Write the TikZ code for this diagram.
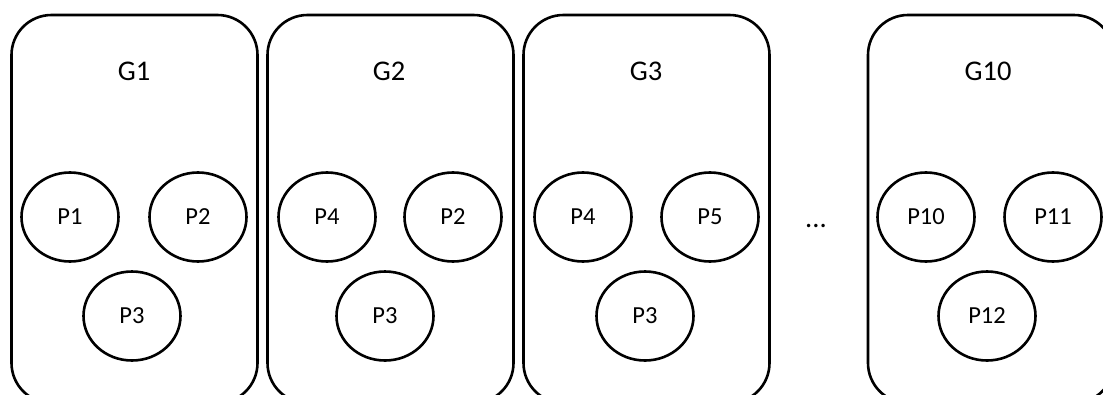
\documentclass[tikz,border=0pt]{standalone}
\usepackage{fontspec}
\setmainfont{Carlito}
\usetikzlibrary{shapes.geometric}
\begin{document}
\begin{tikzpicture}[x=1pt,y=-1pt,
  group/.style={draw=black,line width=2.6pt,rounded corners=40pt,minimum width=246pt,minimum height=388pt,inner sep=0pt},
  proc/.style={draw=black,line width=2.6pt,ellipse,minimum width=97pt,minimum height=89pt,inner sep=0pt,font=\fontsize{24.5}{28}\selectfont},
  glabel/.style={font=\fontsize{28.5}{32}\selectfont,inner sep=0pt}]
\useasboundingbox (0,0) rectangle (1103,394);
\clip (0,0) rectangle (1103,394);
% groups
\node[group] (g1) at (134.5,209) {};
\node[group] (g2) at (390.5,209) {};
\node[group] (g3) at (646.5,209) {};
\node[group] (g10) at (991,209) {};
% labels
\node[glabel] (l1) at (134,71) {G1};
\node[glabel] (l2) at (389,71) {G2};
\node[glabel] (l3) at (646,71) {G3};
\node[glabel] (l10) at (988,71) {G10};
% processes
\node[proc] (g1p1) at (70,217) {P1};
\node[proc] (g1p2) at (198,217) {P2};
\node[proc] (g1p3) at (132,316) {P3};
\node[proc] (g2p4) at (327,217) {P4};
\node[proc] (g2p2) at (453,217) {P2};
\node[proc] (g2p3) at (385,316) {P3};
\node[proc] (g3p4) at (583,217) {P4};
\node[proc] (g3p5) at (710,217) {P5};
\node[proc] (g3p3) at (645,316) {P3};
\node[proc] (g10p10) at (926,217) {P10};
\node[proc] (g10p11) at (1053,217) {P11};
\node[proc] (g10p12) at (987,316) {P12};
% ellipsis
\node[glabel] (dots) at (816,226) {...};
\end{tikzpicture}
\end{document}
